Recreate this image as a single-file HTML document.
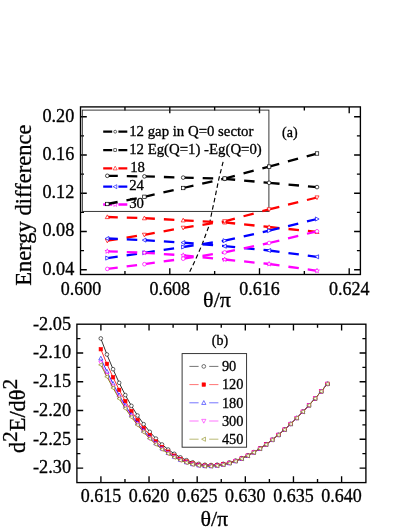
<!DOCTYPE html>
<html><head><meta charset="utf-8"><title>chart</title>
<style>html,body{margin:0;padding:0;background:#fff;overflow:hidden;}svg{display:block;position:absolute;left:0;top:0;opacity:0.999;will-change:transform;}text{fill:#000;stroke:#000;stroke-width:0.3px;}</style>
</head><body>
<svg width="409" height="529" viewBox="0 0 409 529">
<rect width="409" height="529" fill="#fff"/>
<rect x="80.5" y="106.9" width="279.90" height="167.60" fill="none" stroke="#000" stroke-width="1.35"/>
<path d="M124.95 274.5v-3.5M124.95 106.9v3.5M169.80 274.5v-6.3M169.80 106.9v6.3M214.65 274.5v-3.5M214.65 106.9v3.5M259.50 274.5v-6.3M259.50 106.9v6.3M304.35 274.5v-3.5M304.35 106.9v3.5M349.20 274.5v-6.3M349.20 106.9v6.3M80.5 269.70h6.3M360.4 269.70h-6.3M80.5 250.58h3.5M360.4 250.58h-3.5M80.5 231.45h6.3M360.4 231.45h-6.3M80.5 212.32h3.5M360.4 212.32h-3.5M80.5 193.20h6.3M360.4 193.20h-6.3M80.5 174.07h3.5M360.4 174.07h-3.5M80.5 154.95h6.3M360.4 154.95h-6.3M80.5 135.82h3.5M360.4 135.82h-3.5M80.5 116.70h6.3M360.4 116.70h-6.3" fill="none" stroke="#000" stroke-width="1.35"/>
<text x="81.10" y="294.9" font-size="18" text-anchor="middle" font-family="Liberation Serif, serif">0.600</text>
<text x="169.80" y="294.9" font-size="18" text-anchor="middle" font-family="Liberation Serif, serif">0.608</text>
<text x="259.50" y="294.9" font-size="18" text-anchor="middle" font-family="Liberation Serif, serif">0.616</text>
<text x="349.20" y="294.9" font-size="18" text-anchor="middle" font-family="Liberation Serif, serif">0.624</text>
<text x="74.3" y="274.60" font-size="18.2" text-anchor="end" font-family="Liberation Serif, serif">0.04</text>
<text x="74.3" y="236.35" font-size="18.2" text-anchor="end" font-family="Liberation Serif, serif">0.08</text>
<text x="74.3" y="198.10" font-size="18.2" text-anchor="end" font-family="Liberation Serif, serif">0.12</text>
<text x="74.3" y="159.85" font-size="18.2" text-anchor="end" font-family="Liberation Serif, serif">0.16</text>
<text x="74.3" y="121.60" font-size="18.2" text-anchor="end" font-family="Liberation Serif, serif">0.20</text>
<text transform="translate(30.5,205.2) rotate(-90)" font-size="22.55" text-anchor="middle" font-family="Liberation Serif, serif">Energy difference</text>
<text x="217" y="307.4" font-size="22" text-anchor="middle" font-family="Liberation Serif, serif">θ/π</text>
<rect x="82.3" y="110.1" width="186.60" height="101.30" fill="none" stroke="#222" stroke-width="0.9"/>
<text x="282" y="136.9" font-size="14" font-family="Liberation Serif, serif">(a)</text>
<path d="M223.1 161.9 L218.8 179.1 L214.5 200 L212 211.4 L209.3 225 L201.9 245 L195.0 260.7 L188.7 274.0" fill="none" stroke="#000" stroke-width="1.15" stroke-dasharray="4.4 3"/>
<path d="M103.2 131.7H112.2M118.4 131.7H127.3" stroke="#000" stroke-width="2.3" fill="none"/>
<circle cx="115.20" cy="131.70" r="1.44" fill="#fff" stroke="#000" stroke-width="0.6"/>
<text x="129.2" y="135.80" font-size="14.8" font-family="Liberation Serif, serif">12 gap in Q=0 sector</text>
<path d="M103.2 150.1H112.2M118.4 150.1H127.3" stroke="#000" stroke-width="2.3" fill="none"/>
<rect x="113.84" y="148.74" width="2.72" height="2.72" fill="#fff" stroke="#000" stroke-width="0.6"/>
<text x="129.2" y="154.20" font-size="14.8" font-family="Liberation Serif, serif">12 Eg(Q=1) -Eg(Q=0)</text>
<path d="M103.2 168.3H112.2M118.4 168.3H127.3" stroke="#f00" stroke-width="2.3" fill="none"/>
<polygon points="115.20,166.20 113.20,169.88 117.20,169.88" fill="#fff" stroke="#f00" stroke-width="0.6" stroke-linejoin="miter"/>
<text x="130.2" y="172.00" font-size="14.8" font-family="Liberation Serif, serif">18</text>
<path d="M103.2 186.70000000000002H112.2M118.4 186.70000000000002H127.3" stroke="#00f" stroke-width="2.3" fill="none"/>
<polygon points="113.10,186.70 116.78,184.71 116.78,188.70" fill="#fff" stroke="#00f" stroke-width="0.6" stroke-linejoin="miter"/>
<text x="129.2" y="190.40" font-size="14.8" font-family="Liberation Serif, serif">24</text>
<path d="M103.2 204.5H112.2M118.4 204.5H127.3" stroke="#f0f" stroke-width="2.3" fill="none"/>
<polygon points="115.20,202.09 115.82,203.65 117.50,203.75 116.20,204.82 116.62,206.45 115.20,205.55 113.78,206.45 114.20,204.82 112.90,203.75 114.58,203.65" fill="#fff" stroke="#f0f" stroke-width="0.6" stroke-linejoin="miter"/>
<text x="129.2" y="208.20" font-size="14.8" font-family="Liberation Serif, serif">30</text>
<line x1="107.3" y1="175.8" x2="144.4" y2="176.4" stroke="#000" stroke-width="2.3" stroke-dasharray="10.5 9"/>
<line x1="144.4" y1="176.4" x2="183.2" y2="177.6" stroke="#000" stroke-width="2.3" stroke-dasharray="10.5 9"/>
<line x1="183.2" y1="177.6" x2="224.7" y2="178.8" stroke="#000" stroke-width="2.3" stroke-dasharray="10.5 9"/>
<line x1="224.7" y1="178.8" x2="269.1" y2="182.8" stroke="#000" stroke-width="2.3" stroke-dasharray="10.5 9"/>
<line x1="269.1" y1="182.8" x2="317.0" y2="187.1" stroke="#000" stroke-width="2.3" stroke-dasharray="10.5 9"/>
<line x1="107.3" y1="204.0" x2="144.4" y2="196.8" stroke="#000" stroke-width="2.3" stroke-dasharray="10.5 9"/>
<line x1="144.4" y1="196.8" x2="183.2" y2="188.0" stroke="#000" stroke-width="2.3" stroke-dasharray="10.5 9"/>
<line x1="183.2" y1="188.0" x2="224.7" y2="178.5" stroke="#000" stroke-width="2.3" stroke-dasharray="10.5 9"/>
<line x1="224.7" y1="178.5" x2="269.1" y2="166.6" stroke="#000" stroke-width="2.3" stroke-dasharray="10.5 9"/>
<line x1="269.1" y1="166.6" x2="317.0" y2="153.5" stroke="#000" stroke-width="2.3" stroke-dasharray="10.5 9"/>
<line x1="107.3" y1="217.0" x2="144.4" y2="218.2" stroke="#f00" stroke-width="2.3" stroke-dasharray="10.5 9"/>
<line x1="144.4" y1="218.2" x2="183.2" y2="220.3" stroke="#f00" stroke-width="2.3" stroke-dasharray="10.5 9"/>
<line x1="183.2" y1="220.3" x2="224.7" y2="222.4" stroke="#f00" stroke-width="2.3" stroke-dasharray="10.5 9"/>
<line x1="224.7" y1="222.4" x2="269.1" y2="227.0" stroke="#f00" stroke-width="2.3" stroke-dasharray="10.5 9"/>
<line x1="269.1" y1="227.0" x2="317.0" y2="231.9" stroke="#f00" stroke-width="2.3" stroke-dasharray="10.5 9"/>
<line x1="107.3" y1="240.7" x2="144.4" y2="234.8" stroke="#f00" stroke-width="2.3" stroke-dasharray="10.5 9"/>
<line x1="144.4" y1="234.8" x2="183.2" y2="227.8" stroke="#f00" stroke-width="2.3" stroke-dasharray="10.5 9"/>
<line x1="183.2" y1="227.8" x2="224.7" y2="221.3" stroke="#f00" stroke-width="2.3" stroke-dasharray="10.5 9"/>
<line x1="224.7" y1="221.3" x2="269.1" y2="209.4" stroke="#f00" stroke-width="2.3" stroke-dasharray="10.5 9"/>
<line x1="269.1" y1="209.4" x2="317.0" y2="197.5" stroke="#f00" stroke-width="2.3" stroke-dasharray="10.5 9"/>
<line x1="107.3" y1="238.5" x2="144.4" y2="240.1" stroke="#00f" stroke-width="2.3" stroke-dasharray="10.5 9"/>
<line x1="144.4" y1="240.1" x2="183.2" y2="242.6" stroke="#00f" stroke-width="2.3" stroke-dasharray="10.5 9"/>
<line x1="183.2" y1="242.6" x2="224.7" y2="246.2" stroke="#00f" stroke-width="2.3" stroke-dasharray="10.5 9"/>
<line x1="224.7" y1="246.2" x2="269.1" y2="250.5" stroke="#00f" stroke-width="2.3" stroke-dasharray="10.5 9"/>
<line x1="269.1" y1="250.5" x2="317.0" y2="256.8" stroke="#00f" stroke-width="2.3" stroke-dasharray="10.5 9"/>
<line x1="107.3" y1="258.1" x2="144.4" y2="252.8" stroke="#00f" stroke-width="2.3" stroke-dasharray="10.5 9"/>
<line x1="144.4" y1="252.8" x2="183.2" y2="247.0" stroke="#00f" stroke-width="2.3" stroke-dasharray="10.5 9"/>
<line x1="183.2" y1="247.0" x2="224.7" y2="240.7" stroke="#00f" stroke-width="2.3" stroke-dasharray="10.5 9"/>
<line x1="224.7" y1="240.7" x2="269.1" y2="230.7" stroke="#00f" stroke-width="2.3" stroke-dasharray="10.5 9"/>
<line x1="269.1" y1="230.7" x2="317.0" y2="219.0" stroke="#00f" stroke-width="2.3" stroke-dasharray="10.5 9"/>
<line x1="107.3" y1="251.3" x2="144.4" y2="252.8" stroke="#f0f" stroke-width="2.3" stroke-dasharray="10.5 9"/>
<line x1="144.4" y1="252.8" x2="183.2" y2="255.3" stroke="#f0f" stroke-width="2.3" stroke-dasharray="10.5 9"/>
<line x1="183.2" y1="255.3" x2="224.7" y2="259.5" stroke="#f0f" stroke-width="2.3" stroke-dasharray="10.5 9"/>
<line x1="224.7" y1="259.5" x2="269.1" y2="264.0" stroke="#f0f" stroke-width="2.3" stroke-dasharray="10.5 9"/>
<line x1="269.1" y1="264.0" x2="317.0" y2="270.8" stroke="#f0f" stroke-width="2.3" stroke-dasharray="10.5 9"/>
<line x1="107.3" y1="268.9" x2="144.4" y2="264.2" stroke="#f0f" stroke-width="2.3" stroke-dasharray="10.5 9"/>
<line x1="144.4" y1="264.2" x2="183.2" y2="258.7" stroke="#f0f" stroke-width="2.3" stroke-dasharray="10.5 9"/>
<line x1="183.2" y1="258.7" x2="224.7" y2="252.4" stroke="#f0f" stroke-width="2.3" stroke-dasharray="10.5 9"/>
<line x1="224.7" y1="252.4" x2="269.1" y2="243.0" stroke="#f0f" stroke-width="2.3" stroke-dasharray="10.5 9"/>
<line x1="269.1" y1="243.0" x2="317.0" y2="231.3" stroke="#f0f" stroke-width="2.3" stroke-dasharray="10.5 9"/>
<circle cx="107.30" cy="175.80" r="1.83" fill="#fff" stroke="#000" stroke-width="0.7"/>
<circle cx="144.40" cy="176.40" r="1.83" fill="#fff" stroke="#000" stroke-width="0.7"/>
<circle cx="183.20" cy="177.60" r="1.83" fill="#fff" stroke="#000" stroke-width="0.7"/>
<circle cx="224.70" cy="178.80" r="1.83" fill="#fff" stroke="#000" stroke-width="0.7"/>
<circle cx="269.10" cy="182.80" r="1.83" fill="#fff" stroke="#000" stroke-width="0.7"/>
<circle cx="317.00" cy="187.10" r="1.83" fill="#fff" stroke="#000" stroke-width="0.7"/>
<rect x="105.58" y="202.28" width="3.44" height="3.44" fill="#fff" stroke="#000" stroke-width="0.7"/>
<rect x="142.68" y="195.08" width="3.44" height="3.44" fill="#fff" stroke="#000" stroke-width="0.7"/>
<rect x="181.48" y="186.28" width="3.44" height="3.44" fill="#fff" stroke="#000" stroke-width="0.7"/>
<rect x="222.98" y="176.78" width="3.44" height="3.44" fill="#fff" stroke="#000" stroke-width="0.7"/>
<rect x="267.38" y="164.88" width="3.44" height="3.44" fill="#fff" stroke="#000" stroke-width="0.7"/>
<rect x="315.28" y="151.78" width="3.44" height="3.44" fill="#fff" stroke="#000" stroke-width="0.7"/>
<polygon points="107.30,214.85 105.26,218.61 109.34,218.61" fill="#fff" stroke="#f00" stroke-width="0.7" stroke-linejoin="miter"/>
<polygon points="144.40,216.05 142.36,219.81 146.44,219.81" fill="#fff" stroke="#f00" stroke-width="0.7" stroke-linejoin="miter"/>
<polygon points="183.20,218.15 181.16,221.91 185.24,221.91" fill="#fff" stroke="#f00" stroke-width="0.7" stroke-linejoin="miter"/>
<polygon points="224.70,220.25 222.66,224.01 226.74,224.01" fill="#fff" stroke="#f00" stroke-width="0.7" stroke-linejoin="miter"/>
<polygon points="269.10,224.85 267.06,228.61 271.14,228.61" fill="#fff" stroke="#f00" stroke-width="0.7" stroke-linejoin="miter"/>
<polygon points="317.00,229.75 314.96,233.51 319.04,233.51" fill="#fff" stroke="#f00" stroke-width="0.7" stroke-linejoin="miter"/>
<polygon points="107.30,242.85 105.26,239.09 109.34,239.09" fill="#fff" stroke="#f00" stroke-width="0.7" stroke-linejoin="miter"/>
<polygon points="144.40,236.95 142.36,233.19 146.44,233.19" fill="#fff" stroke="#f00" stroke-width="0.7" stroke-linejoin="miter"/>
<polygon points="183.20,229.95 181.16,226.19 185.24,226.19" fill="#fff" stroke="#f00" stroke-width="0.7" stroke-linejoin="miter"/>
<polygon points="224.70,223.45 222.66,219.69 226.74,219.69" fill="#fff" stroke="#f00" stroke-width="0.7" stroke-linejoin="miter"/>
<polygon points="269.10,211.55 267.06,207.79 271.14,207.79" fill="#fff" stroke="#f00" stroke-width="0.7" stroke-linejoin="miter"/>
<polygon points="317.00,199.65 314.96,195.89 319.04,195.89" fill="#fff" stroke="#f00" stroke-width="0.7" stroke-linejoin="miter"/>
<polygon points="105.15,238.50 108.91,236.46 108.91,240.54" fill="#fff" stroke="#00f" stroke-width="0.7" stroke-linejoin="miter"/>
<polygon points="142.25,240.10 146.01,238.06 146.01,242.14" fill="#fff" stroke="#00f" stroke-width="0.7" stroke-linejoin="miter"/>
<polygon points="181.05,242.60 184.81,240.56 184.81,244.64" fill="#fff" stroke="#00f" stroke-width="0.7" stroke-linejoin="miter"/>
<polygon points="222.55,246.20 226.31,244.16 226.31,248.24" fill="#fff" stroke="#00f" stroke-width="0.7" stroke-linejoin="miter"/>
<polygon points="266.95,250.50 270.71,248.46 270.71,252.54" fill="#fff" stroke="#00f" stroke-width="0.7" stroke-linejoin="miter"/>
<polygon points="314.85,256.80 318.61,254.76 318.61,258.84" fill="#fff" stroke="#00f" stroke-width="0.7" stroke-linejoin="miter"/>
<polygon points="109.45,258.10 105.69,256.06 105.69,260.14" fill="#fff" stroke="#00f" stroke-width="0.7" stroke-linejoin="miter"/>
<polygon points="146.55,252.80 142.79,250.76 142.79,254.84" fill="#fff" stroke="#00f" stroke-width="0.7" stroke-linejoin="miter"/>
<polygon points="185.35,247.00 181.59,244.96 181.59,249.04" fill="#fff" stroke="#00f" stroke-width="0.7" stroke-linejoin="miter"/>
<polygon points="226.85,240.70 223.09,238.66 223.09,242.74" fill="#fff" stroke="#00f" stroke-width="0.7" stroke-linejoin="miter"/>
<polygon points="271.25,230.70 267.49,228.66 267.49,232.74" fill="#fff" stroke="#00f" stroke-width="0.7" stroke-linejoin="miter"/>
<polygon points="319.15,219.00 315.39,216.96 315.39,221.04" fill="#fff" stroke="#00f" stroke-width="0.7" stroke-linejoin="miter"/>
<polygon points="107.30,248.83 107.93,250.43 109.65,250.54 108.32,251.63 108.75,253.30 107.30,252.38 105.85,253.30 106.28,251.63 104.95,250.54 106.67,250.43" fill="#fff" stroke="#f0f" stroke-width="0.7" stroke-linejoin="miter"/>
<polygon points="144.40,250.33 145.03,251.93 146.75,252.04 145.42,253.13 145.85,254.80 144.40,253.88 142.95,254.80 143.38,253.13 142.05,252.04 143.77,251.93" fill="#fff" stroke="#f0f" stroke-width="0.7" stroke-linejoin="miter"/>
<polygon points="183.20,252.83 183.83,254.43 185.55,254.54 184.22,255.63 184.65,257.30 183.20,256.38 181.75,257.30 182.18,255.63 180.85,254.54 182.57,254.43" fill="#fff" stroke="#f0f" stroke-width="0.7" stroke-linejoin="miter"/>
<polygon points="224.70,257.03 225.33,258.63 227.05,258.74 225.72,259.83 226.15,261.50 224.70,260.57 223.25,261.50 223.68,259.83 222.35,258.74 224.07,258.63" fill="#fff" stroke="#f0f" stroke-width="0.7" stroke-linejoin="miter"/>
<polygon points="269.10,261.53 269.73,263.13 271.45,263.24 270.12,264.33 270.55,266.00 269.10,265.07 267.65,266.00 268.08,264.33 266.75,263.24 268.47,263.13" fill="#fff" stroke="#f0f" stroke-width="0.7" stroke-linejoin="miter"/>
<polygon points="317.00,268.33 317.63,269.93 319.35,270.04 318.02,271.13 318.45,272.80 317.00,271.88 315.55,272.80 315.98,271.13 314.65,270.04 316.37,269.93" fill="#fff" stroke="#f0f" stroke-width="0.7" stroke-linejoin="miter"/>
<circle cx="107.30" cy="268.90" r="1.83" fill="#fff" stroke="#f0f" stroke-width="0.7"/>
<circle cx="144.40" cy="264.20" r="1.83" fill="#fff" stroke="#f0f" stroke-width="0.7"/>
<circle cx="183.20" cy="258.70" r="1.83" fill="#fff" stroke="#f0f" stroke-width="0.7"/>
<circle cx="224.70" cy="252.40" r="1.83" fill="#fff" stroke="#f0f" stroke-width="0.7"/>
<circle cx="269.10" cy="243.00" r="1.83" fill="#fff" stroke="#f0f" stroke-width="0.7"/>
<circle cx="317.00" cy="231.30" r="1.83" fill="#fff" stroke="#f0f" stroke-width="0.7"/>
<rect x="76.9" y="324.2" width="289.00" height="158.40" fill="none" stroke="#000" stroke-width="1.35"/>
<path d="M100.90 482.6v-6.3M100.90 324.2v6.3M124.97 482.6v-3.5M124.97 324.2v3.5M149.04 482.6v-6.3M149.04 324.2v6.3M173.11 482.6v-3.5M173.11 324.2v3.5M197.18 482.6v-6.3M197.18 324.2v6.3M221.25 482.6v-3.5M221.25 324.2v3.5M245.32 482.6v-6.3M245.32 324.2v6.3M269.39 482.6v-3.5M269.39 324.2v3.5M293.46 482.6v-6.3M293.46 324.2v6.3M317.53 482.6v-3.5M317.53 324.2v3.5M341.60 482.6v-6.3M341.60 324.2v6.3M76.9 338.58h3.5M365.9 338.58h-3.5M76.9 352.97h6.3M365.9 352.97h-6.3M76.9 367.36h3.5M365.9 367.36h-3.5M76.9 381.74h6.3M365.9 381.74h-6.3M76.9 396.12h3.5M365.9 396.12h-3.5M76.9 410.51h6.3M365.9 410.51h-6.3M76.9 424.89h3.5M365.9 424.89h-3.5M76.9 439.28h6.3M365.9 439.28h-6.3M76.9 453.67h3.5M365.9 453.67h-3.5M76.9 468.05h6.3M365.9 468.05h-6.3" fill="none" stroke="#000" stroke-width="1.35"/>
<text x="100.90" y="502.4" font-size="18" text-anchor="middle" font-family="Liberation Serif, serif">0.615</text>
<text x="149.04" y="502.4" font-size="18" text-anchor="middle" font-family="Liberation Serif, serif">0.620</text>
<text x="197.18" y="502.4" font-size="18" text-anchor="middle" font-family="Liberation Serif, serif">0.625</text>
<text x="245.32" y="502.4" font-size="18" text-anchor="middle" font-family="Liberation Serif, serif">0.630</text>
<text x="293.46" y="502.4" font-size="18" text-anchor="middle" font-family="Liberation Serif, serif">0.635</text>
<text x="341.60" y="502.4" font-size="18" text-anchor="middle" font-family="Liberation Serif, serif">0.640</text>
<text x="71.1" y="329.50" font-size="18.3" text-anchor="end" font-family="Liberation Serif, serif">-2.05</text>
<text x="71.1" y="358.27" font-size="18.3" text-anchor="end" font-family="Liberation Serif, serif">-2.10</text>
<text x="71.1" y="387.04" font-size="18.3" text-anchor="end" font-family="Liberation Serif, serif">-2.15</text>
<text x="71.1" y="415.81" font-size="18.3" text-anchor="end" font-family="Liberation Serif, serif">-2.20</text>
<text x="71.1" y="444.58" font-size="18.3" text-anchor="end" font-family="Liberation Serif, serif">-2.25</text>
<text x="71.1" y="473.35" font-size="18.3" text-anchor="end" font-family="Liberation Serif, serif">-2.30</text>
<text transform="translate(24.9,453.1) rotate(-90)" font-size="22.3" font-family="Liberation Serif, serif">d<tspan dy="-7.8" font-size="21.5">2</tspan><tspan dy="7.8">E/dθ</tspan><tspan dy="-7.8" font-size="21.5">2</tspan></text>
<text x="214.3" y="526" font-size="22" text-anchor="middle" font-family="Liberation Serif, serif">θ/π</text>
<text x="211.8" y="345.4" font-size="14" font-family="Liberation Serif, serif">(b)</text>
<polyline points="100.80,338.43 106.92,354.48 113.05,369.18 119.17,382.82 125.30,395.07 131.42,405.85 137.54,415.52 143.67,424.17 149.79,431.86 155.92,438.60 162.04,444.47 168.16,449.53 174.29,453.81 180.41,457.35 186.54,460.18 192.66,462.34 198.78,463.84 204.91,464.72 211.03,465.00 217.16,464.70 223.28,463.86 229.40,462.48 235.53,460.59 241.65,458.21 247.78,455.37 253.90,452.07 260.02,448.34 266.15,444.23 272.27,439.72 278.40,434.81 284.52,429.53 290.64,423.90 296.77,417.96 302.89,411.71 309.02,405.17 315.14,398.37 321.26,391.29 327.39,383.88" fill="none" stroke="#000" stroke-width="0.8"/>
<circle cx="100.80" cy="338.43" r="1.83" fill="#fff" stroke="#000" stroke-width="0.6"/>
<circle cx="106.92" cy="354.48" r="1.83" fill="#fff" stroke="#000" stroke-width="0.6"/>
<circle cx="113.05" cy="369.18" r="1.83" fill="#fff" stroke="#000" stroke-width="0.6"/>
<circle cx="119.17" cy="382.82" r="1.83" fill="#fff" stroke="#000" stroke-width="0.6"/>
<circle cx="125.30" cy="395.07" r="1.83" fill="#fff" stroke="#000" stroke-width="0.6"/>
<circle cx="131.42" cy="405.85" r="1.83" fill="#fff" stroke="#000" stroke-width="0.6"/>
<circle cx="137.54" cy="415.52" r="1.83" fill="#fff" stroke="#000" stroke-width="0.6"/>
<circle cx="143.67" cy="424.17" r="1.83" fill="#fff" stroke="#000" stroke-width="0.6"/>
<circle cx="149.79" cy="431.86" r="1.83" fill="#fff" stroke="#000" stroke-width="0.6"/>
<circle cx="155.92" cy="438.60" r="1.83" fill="#fff" stroke="#000" stroke-width="0.6"/>
<circle cx="162.04" cy="444.47" r="1.83" fill="#fff" stroke="#000" stroke-width="0.6"/>
<circle cx="168.16" cy="449.53" r="1.83" fill="#fff" stroke="#000" stroke-width="0.6"/>
<circle cx="174.29" cy="453.81" r="1.83" fill="#fff" stroke="#000" stroke-width="0.6"/>
<circle cx="180.41" cy="457.35" r="1.83" fill="#fff" stroke="#000" stroke-width="0.6"/>
<circle cx="186.54" cy="460.18" r="1.83" fill="#fff" stroke="#000" stroke-width="0.6"/>
<circle cx="192.66" cy="462.34" r="1.83" fill="#fff" stroke="#000" stroke-width="0.6"/>
<circle cx="198.78" cy="463.84" r="1.83" fill="#fff" stroke="#000" stroke-width="0.6"/>
<circle cx="204.91" cy="464.72" r="1.83" fill="#fff" stroke="#000" stroke-width="0.6"/>
<circle cx="211.03" cy="465.00" r="1.83" fill="#fff" stroke="#000" stroke-width="0.6"/>
<circle cx="217.16" cy="464.70" r="1.83" fill="#fff" stroke="#000" stroke-width="0.6"/>
<circle cx="223.28" cy="463.86" r="1.83" fill="#fff" stroke="#000" stroke-width="0.6"/>
<circle cx="229.40" cy="462.48" r="1.83" fill="#fff" stroke="#000" stroke-width="0.6"/>
<circle cx="235.53" cy="460.59" r="1.83" fill="#fff" stroke="#000" stroke-width="0.6"/>
<circle cx="241.65" cy="458.21" r="1.83" fill="#fff" stroke="#000" stroke-width="0.6"/>
<circle cx="247.78" cy="455.37" r="1.83" fill="#fff" stroke="#000" stroke-width="0.6"/>
<circle cx="253.90" cy="452.07" r="1.83" fill="#fff" stroke="#000" stroke-width="0.6"/>
<circle cx="260.02" cy="448.34" r="1.83" fill="#fff" stroke="#000" stroke-width="0.6"/>
<circle cx="266.15" cy="444.23" r="1.83" fill="#fff" stroke="#000" stroke-width="0.6"/>
<circle cx="272.27" cy="439.72" r="1.83" fill="#fff" stroke="#000" stroke-width="0.6"/>
<circle cx="278.40" cy="434.81" r="1.83" fill="#fff" stroke="#000" stroke-width="0.6"/>
<circle cx="284.52" cy="429.53" r="1.83" fill="#fff" stroke="#000" stroke-width="0.6"/>
<circle cx="290.64" cy="423.90" r="1.83" fill="#fff" stroke="#000" stroke-width="0.6"/>
<circle cx="296.77" cy="417.96" r="1.83" fill="#fff" stroke="#000" stroke-width="0.6"/>
<circle cx="302.89" cy="411.71" r="1.83" fill="#fff" stroke="#000" stroke-width="0.6"/>
<circle cx="309.02" cy="405.17" r="1.83" fill="#fff" stroke="#000" stroke-width="0.6"/>
<circle cx="315.14" cy="398.37" r="1.83" fill="#fff" stroke="#000" stroke-width="0.6"/>
<circle cx="321.26" cy="391.29" r="1.83" fill="#fff" stroke="#000" stroke-width="0.6"/>
<circle cx="327.39" cy="383.88" r="1.83" fill="#fff" stroke="#000" stroke-width="0.6"/>
<polyline points="100.80,349.23 106.92,363.86 113.05,377.30 119.17,389.85 125.30,401.15 131.42,411.10 137.54,420.05 143.67,428.08 149.79,435.23 155.92,441.49 162.04,446.96 168.16,451.67 174.29,455.65 180.41,458.93 186.54,461.54 192.66,463.50 198.78,464.83 204.91,465.57 211.03,465.73 217.16,465.33 223.28,464.39 229.40,462.93 235.53,460.98 241.65,458.54 247.78,455.65 253.90,452.31 260.02,448.55 266.15,444.41 272.27,439.87 278.40,434.94 284.52,429.64 290.64,423.99 296.77,418.03 302.89,411.77 309.02,405.23 315.14,398.42 321.26,391.33 327.39,383.91" fill="none" stroke="#f00" stroke-width="0.8"/>
<rect x="99.08" y="347.51" width="3.44" height="3.44" fill="#f00" stroke="#f00" stroke-width="0.6"/>
<rect x="105.20" y="362.14" width="3.44" height="3.44" fill="#f00" stroke="#f00" stroke-width="0.6"/>
<rect x="111.33" y="375.58" width="3.44" height="3.44" fill="#f00" stroke="#f00" stroke-width="0.6"/>
<rect x="117.45" y="388.13" width="3.44" height="3.44" fill="#f00" stroke="#f00" stroke-width="0.6"/>
<rect x="123.58" y="399.43" width="3.44" height="3.44" fill="#f00" stroke="#f00" stroke-width="0.6"/>
<rect x="129.70" y="409.38" width="3.44" height="3.44" fill="#f00" stroke="#f00" stroke-width="0.6"/>
<rect x="135.82" y="418.33" width="3.44" height="3.44" fill="#f00" stroke="#f00" stroke-width="0.6"/>
<rect x="141.95" y="426.36" width="3.44" height="3.44" fill="#f00" stroke="#f00" stroke-width="0.6"/>
<rect x="148.07" y="433.51" width="3.44" height="3.44" fill="#f00" stroke="#f00" stroke-width="0.6"/>
<rect x="154.20" y="439.77" width="3.44" height="3.44" fill="#f00" stroke="#f00" stroke-width="0.6"/>
<rect x="160.32" y="445.24" width="3.44" height="3.44" fill="#f00" stroke="#f00" stroke-width="0.6"/>
<rect x="166.44" y="449.95" width="3.44" height="3.44" fill="#f00" stroke="#f00" stroke-width="0.6"/>
<rect x="172.57" y="453.93" width="3.44" height="3.44" fill="#f00" stroke="#f00" stroke-width="0.6"/>
<rect x="178.69" y="457.21" width="3.44" height="3.44" fill="#f00" stroke="#f00" stroke-width="0.6"/>
<rect x="184.82" y="459.82" width="3.44" height="3.44" fill="#f00" stroke="#f00" stroke-width="0.6"/>
<rect x="190.94" y="461.78" width="3.44" height="3.44" fill="#f00" stroke="#f00" stroke-width="0.6"/>
<rect x="197.06" y="463.11" width="3.44" height="3.44" fill="#f00" stroke="#f00" stroke-width="0.6"/>
<rect x="203.19" y="463.85" width="3.44" height="3.44" fill="#f00" stroke="#f00" stroke-width="0.6"/>
<rect x="209.31" y="464.01" width="3.44" height="3.44" fill="#f00" stroke="#f00" stroke-width="0.6"/>
<rect x="215.44" y="463.61" width="3.44" height="3.44" fill="#f00" stroke="#f00" stroke-width="0.6"/>
<rect x="221.56" y="462.67" width="3.44" height="3.44" fill="#f00" stroke="#f00" stroke-width="0.6"/>
<rect x="227.68" y="461.21" width="3.44" height="3.44" fill="#f00" stroke="#f00" stroke-width="0.6"/>
<rect x="233.81" y="459.26" width="3.44" height="3.44" fill="#f00" stroke="#f00" stroke-width="0.6"/>
<rect x="239.93" y="456.82" width="3.44" height="3.44" fill="#f00" stroke="#f00" stroke-width="0.6"/>
<rect x="246.06" y="453.93" width="3.44" height="3.44" fill="#f00" stroke="#f00" stroke-width="0.6"/>
<rect x="252.18" y="450.59" width="3.44" height="3.44" fill="#f00" stroke="#f00" stroke-width="0.6"/>
<rect x="258.30" y="446.83" width="3.44" height="3.44" fill="#f00" stroke="#f00" stroke-width="0.6"/>
<rect x="264.43" y="442.69" width="3.44" height="3.44" fill="#f00" stroke="#f00" stroke-width="0.6"/>
<rect x="270.55" y="438.15" width="3.44" height="3.44" fill="#f00" stroke="#f00" stroke-width="0.6"/>
<rect x="276.68" y="433.22" width="3.44" height="3.44" fill="#f00" stroke="#f00" stroke-width="0.6"/>
<rect x="282.80" y="427.92" width="3.44" height="3.44" fill="#f00" stroke="#f00" stroke-width="0.6"/>
<rect x="288.92" y="422.27" width="3.44" height="3.44" fill="#f00" stroke="#f00" stroke-width="0.6"/>
<rect x="295.05" y="416.31" width="3.44" height="3.44" fill="#f00" stroke="#f00" stroke-width="0.6"/>
<rect x="301.17" y="410.05" width="3.44" height="3.44" fill="#f00" stroke="#f00" stroke-width="0.6"/>
<rect x="307.30" y="403.51" width="3.44" height="3.44" fill="#f00" stroke="#f00" stroke-width="0.6"/>
<rect x="313.42" y="396.70" width="3.44" height="3.44" fill="#f00" stroke="#f00" stroke-width="0.6"/>
<rect x="319.54" y="389.61" width="3.44" height="3.44" fill="#f00" stroke="#f00" stroke-width="0.6"/>
<rect x="325.67" y="382.19" width="3.44" height="3.44" fill="#f00" stroke="#f00" stroke-width="0.6"/>
<polyline points="100.80,358.43 106.92,371.52 113.05,383.68 119.17,395.16 125.30,405.57 131.42,414.77 137.54,423.11 143.67,430.62 149.79,437.35 155.92,443.26 162.04,448.43 168.16,452.89 174.29,456.66 180.41,459.77 186.54,462.24 192.66,464.08 198.78,465.32 204.91,465.97 211.03,466.06 217.16,465.60 223.28,464.62 229.40,463.12 235.53,461.14 241.65,458.68 247.78,455.76 253.90,452.40 260.02,448.63 266.15,444.47 272.27,439.93 278.40,434.99 284.52,429.67 290.64,424.02 296.77,418.06 302.89,411.79 309.02,405.25 315.14,398.43 321.26,391.34 327.39,383.92" fill="none" stroke="#00f" stroke-width="0.8"/>
<polygon points="100.80,356.28 98.76,360.04 102.84,360.04" fill="#fff" stroke="#00f" stroke-width="0.6" stroke-linejoin="miter"/>
<polygon points="106.92,369.37 104.88,373.13 108.97,373.13" fill="#fff" stroke="#00f" stroke-width="0.6" stroke-linejoin="miter"/>
<polygon points="113.05,381.53 111.01,385.29 115.09,385.29" fill="#fff" stroke="#00f" stroke-width="0.6" stroke-linejoin="miter"/>
<polygon points="119.17,393.01 117.13,396.77 121.21,396.77" fill="#fff" stroke="#00f" stroke-width="0.6" stroke-linejoin="miter"/>
<polygon points="125.30,403.42 123.25,407.18 127.34,407.18" fill="#fff" stroke="#00f" stroke-width="0.6" stroke-linejoin="miter"/>
<polygon points="131.42,412.62 129.38,416.39 133.46,416.39" fill="#fff" stroke="#00f" stroke-width="0.6" stroke-linejoin="miter"/>
<polygon points="137.54,420.96 135.50,424.72 139.59,424.72" fill="#fff" stroke="#00f" stroke-width="0.6" stroke-linejoin="miter"/>
<polygon points="143.67,428.47 141.63,432.24 145.71,432.24" fill="#fff" stroke="#00f" stroke-width="0.6" stroke-linejoin="miter"/>
<polygon points="149.79,435.20 147.75,438.96 151.83,438.96" fill="#fff" stroke="#00f" stroke-width="0.6" stroke-linejoin="miter"/>
<polygon points="155.92,441.11 153.87,444.87 157.96,444.87" fill="#fff" stroke="#00f" stroke-width="0.6" stroke-linejoin="miter"/>
<polygon points="162.04,446.28 160.00,450.04 164.08,450.04" fill="#fff" stroke="#00f" stroke-width="0.6" stroke-linejoin="miter"/>
<polygon points="168.16,450.74 166.12,454.50 170.21,454.50" fill="#fff" stroke="#00f" stroke-width="0.6" stroke-linejoin="miter"/>
<polygon points="174.29,454.51 172.25,458.28 176.33,458.28" fill="#fff" stroke="#00f" stroke-width="0.6" stroke-linejoin="miter"/>
<polygon points="180.41,457.62 178.37,461.39 182.45,461.39" fill="#fff" stroke="#00f" stroke-width="0.6" stroke-linejoin="miter"/>
<polygon points="186.54,460.09 184.49,463.85 188.58,463.85" fill="#fff" stroke="#00f" stroke-width="0.6" stroke-linejoin="miter"/>
<polygon points="192.66,461.93 190.62,465.69 194.70,465.69" fill="#fff" stroke="#00f" stroke-width="0.6" stroke-linejoin="miter"/>
<polygon points="198.78,463.17 196.74,466.93 200.83,466.93" fill="#fff" stroke="#00f" stroke-width="0.6" stroke-linejoin="miter"/>
<polygon points="204.91,463.82 202.87,467.58 206.95,467.58" fill="#fff" stroke="#00f" stroke-width="0.6" stroke-linejoin="miter"/>
<polygon points="211.03,463.91 208.99,467.67 213.07,467.67" fill="#fff" stroke="#00f" stroke-width="0.6" stroke-linejoin="miter"/>
<polygon points="217.16,463.45 215.11,467.22 219.20,467.22" fill="#fff" stroke="#00f" stroke-width="0.6" stroke-linejoin="miter"/>
<polygon points="223.28,462.47 221.24,466.23 225.32,466.23" fill="#fff" stroke="#00f" stroke-width="0.6" stroke-linejoin="miter"/>
<polygon points="229.40,460.97 227.36,464.74 231.45,464.74" fill="#fff" stroke="#00f" stroke-width="0.6" stroke-linejoin="miter"/>
<polygon points="235.53,458.99 233.49,462.75 237.57,462.75" fill="#fff" stroke="#00f" stroke-width="0.6" stroke-linejoin="miter"/>
<polygon points="241.65,456.53 239.61,460.29 243.69,460.29" fill="#fff" stroke="#00f" stroke-width="0.6" stroke-linejoin="miter"/>
<polygon points="247.78,453.61 245.73,457.37 249.82,457.37" fill="#fff" stroke="#00f" stroke-width="0.6" stroke-linejoin="miter"/>
<polygon points="253.90,450.25 251.86,454.02 255.94,454.02" fill="#fff" stroke="#00f" stroke-width="0.6" stroke-linejoin="miter"/>
<polygon points="260.02,446.48 257.98,450.24 262.07,450.24" fill="#fff" stroke="#00f" stroke-width="0.6" stroke-linejoin="miter"/>
<polygon points="266.15,442.32 264.11,446.08 268.19,446.08" fill="#fff" stroke="#00f" stroke-width="0.6" stroke-linejoin="miter"/>
<polygon points="272.27,437.78 270.23,441.54 274.31,441.54" fill="#fff" stroke="#00f" stroke-width="0.6" stroke-linejoin="miter"/>
<polygon points="278.40,432.84 276.35,436.60 280.44,436.60" fill="#fff" stroke="#00f" stroke-width="0.6" stroke-linejoin="miter"/>
<polygon points="284.52,427.52 282.48,431.29 286.56,431.29" fill="#fff" stroke="#00f" stroke-width="0.6" stroke-linejoin="miter"/>
<polygon points="290.64,421.87 288.60,425.64 292.69,425.64" fill="#fff" stroke="#00f" stroke-width="0.6" stroke-linejoin="miter"/>
<polygon points="296.77,415.91 294.73,419.67 298.81,419.67" fill="#fff" stroke="#00f" stroke-width="0.6" stroke-linejoin="miter"/>
<polygon points="302.89,409.64 300.85,413.41 304.93,413.41" fill="#fff" stroke="#00f" stroke-width="0.6" stroke-linejoin="miter"/>
<polygon points="309.02,403.10 306.97,406.86 311.06,406.86" fill="#fff" stroke="#00f" stroke-width="0.6" stroke-linejoin="miter"/>
<polygon points="315.14,396.28 313.10,400.04 317.18,400.04" fill="#fff" stroke="#00f" stroke-width="0.6" stroke-linejoin="miter"/>
<polygon points="321.26,389.19 319.22,392.96 323.31,392.96" fill="#fff" stroke="#00f" stroke-width="0.6" stroke-linejoin="miter"/>
<polygon points="327.39,381.77 325.35,385.53 329.43,385.53" fill="#fff" stroke="#00f" stroke-width="0.6" stroke-linejoin="miter"/>
<polyline points="100.80,362.73 106.92,375.04 113.05,386.56 119.17,397.52 125.30,407.50 131.42,416.36 137.54,424.41 143.67,431.68 149.79,438.22 155.92,443.97 162.04,449.01 168.16,453.37 174.29,457.05 180.41,460.09 186.54,462.50 192.66,464.29 198.78,465.49 204.91,466.12 211.03,466.18 217.16,465.70 223.28,464.70 229.40,463.19 235.53,461.19 241.65,458.72 247.78,455.80 253.90,452.43 260.02,448.65 266.15,444.49 272.27,439.94 278.40,435.00 284.52,429.68 290.64,424.03 296.77,418.07 302.89,411.80 309.02,405.25 315.14,398.44 321.26,391.35 327.39,383.92" fill="none" stroke="#f0f" stroke-width="0.8"/>
<polygon points="100.80,364.88 98.76,361.12 102.84,361.12" fill="#fff" stroke="#f0f" stroke-width="0.6" stroke-linejoin="miter"/>
<polygon points="106.92,377.19 104.88,373.42 108.97,373.42" fill="#fff" stroke="#f0f" stroke-width="0.6" stroke-linejoin="miter"/>
<polygon points="113.05,388.71 111.01,384.95 115.09,384.95" fill="#fff" stroke="#f0f" stroke-width="0.6" stroke-linejoin="miter"/>
<polygon points="119.17,399.67 117.13,395.91 121.21,395.91" fill="#fff" stroke="#f0f" stroke-width="0.6" stroke-linejoin="miter"/>
<polygon points="125.30,409.65 123.25,405.89 127.34,405.89" fill="#fff" stroke="#f0f" stroke-width="0.6" stroke-linejoin="miter"/>
<polygon points="131.42,418.51 129.38,414.74 133.46,414.74" fill="#fff" stroke="#f0f" stroke-width="0.6" stroke-linejoin="miter"/>
<polygon points="137.54,426.56 135.50,422.79 139.59,422.79" fill="#fff" stroke="#f0f" stroke-width="0.6" stroke-linejoin="miter"/>
<polygon points="143.67,433.83 141.63,430.07 145.71,430.07" fill="#fff" stroke="#f0f" stroke-width="0.6" stroke-linejoin="miter"/>
<polygon points="149.79,440.37 147.75,436.60 151.83,436.60" fill="#fff" stroke="#f0f" stroke-width="0.6" stroke-linejoin="miter"/>
<polygon points="155.92,446.12 153.87,442.36 157.96,442.36" fill="#fff" stroke="#f0f" stroke-width="0.6" stroke-linejoin="miter"/>
<polygon points="162.04,451.16 160.00,447.40 164.08,447.40" fill="#fff" stroke="#f0f" stroke-width="0.6" stroke-linejoin="miter"/>
<polygon points="168.16,455.52 166.12,451.75 170.21,451.75" fill="#fff" stroke="#f0f" stroke-width="0.6" stroke-linejoin="miter"/>
<polygon points="174.29,459.20 172.25,455.44 176.33,455.44" fill="#fff" stroke="#f0f" stroke-width="0.6" stroke-linejoin="miter"/>
<polygon points="180.41,462.24 178.37,458.48 182.45,458.48" fill="#fff" stroke="#f0f" stroke-width="0.6" stroke-linejoin="miter"/>
<polygon points="186.54,464.65 184.49,460.89 188.58,460.89" fill="#fff" stroke="#f0f" stroke-width="0.6" stroke-linejoin="miter"/>
<polygon points="192.66,466.44 190.62,462.68 194.70,462.68" fill="#fff" stroke="#f0f" stroke-width="0.6" stroke-linejoin="miter"/>
<polygon points="198.78,467.64 196.74,463.88 200.83,463.88" fill="#fff" stroke="#f0f" stroke-width="0.6" stroke-linejoin="miter"/>
<polygon points="204.91,468.27 202.87,464.50 206.95,464.50" fill="#fff" stroke="#f0f" stroke-width="0.6" stroke-linejoin="miter"/>
<polygon points="211.03,468.33 208.99,464.57 213.07,464.57" fill="#fff" stroke="#f0f" stroke-width="0.6" stroke-linejoin="miter"/>
<polygon points="217.16,467.85 215.11,464.09 219.20,464.09" fill="#fff" stroke="#f0f" stroke-width="0.6" stroke-linejoin="miter"/>
<polygon points="223.28,466.85 221.24,463.09 225.32,463.09" fill="#fff" stroke="#f0f" stroke-width="0.6" stroke-linejoin="miter"/>
<polygon points="229.40,465.34 227.36,461.58 231.45,461.58" fill="#fff" stroke="#f0f" stroke-width="0.6" stroke-linejoin="miter"/>
<polygon points="235.53,463.34 233.49,459.58 237.57,459.58" fill="#fff" stroke="#f0f" stroke-width="0.6" stroke-linejoin="miter"/>
<polygon points="241.65,460.87 239.61,457.11 243.69,457.11" fill="#fff" stroke="#f0f" stroke-width="0.6" stroke-linejoin="miter"/>
<polygon points="247.78,457.95 245.73,454.18 249.82,454.18" fill="#fff" stroke="#f0f" stroke-width="0.6" stroke-linejoin="miter"/>
<polygon points="253.90,454.58 251.86,450.82 255.94,450.82" fill="#fff" stroke="#f0f" stroke-width="0.6" stroke-linejoin="miter"/>
<polygon points="260.02,450.80 257.98,447.04 262.07,447.04" fill="#fff" stroke="#f0f" stroke-width="0.6" stroke-linejoin="miter"/>
<polygon points="266.15,446.64 264.11,442.88 268.19,442.88" fill="#fff" stroke="#f0f" stroke-width="0.6" stroke-linejoin="miter"/>
<polygon points="272.27,442.09 270.23,438.33 274.31,438.33" fill="#fff" stroke="#f0f" stroke-width="0.6" stroke-linejoin="miter"/>
<polygon points="278.40,437.15 276.35,433.39 280.44,433.39" fill="#fff" stroke="#f0f" stroke-width="0.6" stroke-linejoin="miter"/>
<polygon points="284.52,431.83 282.48,428.07 286.56,428.07" fill="#fff" stroke="#f0f" stroke-width="0.6" stroke-linejoin="miter"/>
<polygon points="290.64,426.18 288.60,422.42 292.69,422.42" fill="#fff" stroke="#f0f" stroke-width="0.6" stroke-linejoin="miter"/>
<polygon points="296.77,420.22 294.73,416.45 298.81,416.45" fill="#fff" stroke="#f0f" stroke-width="0.6" stroke-linejoin="miter"/>
<polygon points="302.89,413.95 300.85,410.19 304.93,410.19" fill="#fff" stroke="#f0f" stroke-width="0.6" stroke-linejoin="miter"/>
<polygon points="309.02,407.40 306.97,403.64 311.06,403.64" fill="#fff" stroke="#f0f" stroke-width="0.6" stroke-linejoin="miter"/>
<polygon points="315.14,400.59 313.10,396.82 317.18,396.82" fill="#fff" stroke="#f0f" stroke-width="0.6" stroke-linejoin="miter"/>
<polygon points="321.26,393.50 319.22,389.73 323.31,389.73" fill="#fff" stroke="#f0f" stroke-width="0.6" stroke-linejoin="miter"/>
<polygon points="327.39,386.07 325.35,382.31 329.43,382.31" fill="#fff" stroke="#f0f" stroke-width="0.6" stroke-linejoin="miter"/>
<polyline points="100.80,364.83 106.92,376.76 113.05,387.97 119.17,398.67 125.30,408.45 131.42,417.13 137.54,425.04 143.67,432.20 149.79,438.64 155.92,444.32 162.04,449.30 168.16,453.60 174.29,457.25 180.41,460.25 186.54,462.63 192.66,464.40 198.78,465.58 204.91,466.19 211.03,466.24 217.16,465.75 223.28,464.74 229.40,463.22 235.53,461.22 241.65,458.74 247.78,455.81 253.90,452.45 260.02,448.66 266.15,444.50 272.27,439.95 278.40,435.00 284.52,429.69 290.64,424.04 296.77,418.07 302.89,411.80 309.02,405.25 315.14,398.44 321.26,391.35 327.39,383.93" fill="none" stroke="#808000" stroke-width="0.9"/>
<polygon points="98.65,364.83 102.41,362.79 102.41,366.87" fill="#fff" stroke="#808000" stroke-width="0.6" stroke-linejoin="miter"/>
<polygon points="104.77,376.76 108.54,374.71 108.54,378.80" fill="#fff" stroke="#808000" stroke-width="0.6" stroke-linejoin="miter"/>
<polygon points="110.90,387.97 114.66,385.93 114.66,390.01" fill="#fff" stroke="#808000" stroke-width="0.6" stroke-linejoin="miter"/>
<polygon points="117.02,398.67 120.78,396.63 120.78,400.71" fill="#fff" stroke="#808000" stroke-width="0.6" stroke-linejoin="miter"/>
<polygon points="123.15,408.45 126.91,406.41 126.91,410.49" fill="#fff" stroke="#808000" stroke-width="0.6" stroke-linejoin="miter"/>
<polygon points="129.27,417.13 133.03,415.09 133.03,419.17" fill="#fff" stroke="#808000" stroke-width="0.6" stroke-linejoin="miter"/>
<polygon points="135.39,425.04 139.16,423.00 139.16,427.08" fill="#fff" stroke="#808000" stroke-width="0.6" stroke-linejoin="miter"/>
<polygon points="141.52,432.20 145.28,430.16 145.28,434.25" fill="#fff" stroke="#808000" stroke-width="0.6" stroke-linejoin="miter"/>
<polygon points="147.64,438.64 151.40,436.60 151.40,440.68" fill="#fff" stroke="#808000" stroke-width="0.6" stroke-linejoin="miter"/>
<polygon points="153.77,444.32 157.53,442.27 157.53,446.36" fill="#fff" stroke="#808000" stroke-width="0.6" stroke-linejoin="miter"/>
<polygon points="159.89,449.30 163.65,447.25 163.65,451.34" fill="#fff" stroke="#808000" stroke-width="0.6" stroke-linejoin="miter"/>
<polygon points="166.01,453.60 169.78,451.56 169.78,455.64" fill="#fff" stroke="#808000" stroke-width="0.6" stroke-linejoin="miter"/>
<polygon points="172.14,457.25 175.90,455.20 175.90,459.29" fill="#fff" stroke="#808000" stroke-width="0.6" stroke-linejoin="miter"/>
<polygon points="178.26,460.25 182.02,458.21 182.02,462.29" fill="#fff" stroke="#808000" stroke-width="0.6" stroke-linejoin="miter"/>
<polygon points="184.39,462.63 188.15,460.59 188.15,464.67" fill="#fff" stroke="#808000" stroke-width="0.6" stroke-linejoin="miter"/>
<polygon points="190.51,464.40 194.27,462.36 194.27,466.44" fill="#fff" stroke="#808000" stroke-width="0.6" stroke-linejoin="miter"/>
<polygon points="196.63,465.58 200.40,463.54 200.40,467.62" fill="#fff" stroke="#808000" stroke-width="0.6" stroke-linejoin="miter"/>
<polygon points="202.76,466.19 206.52,464.14 206.52,468.23" fill="#fff" stroke="#808000" stroke-width="0.6" stroke-linejoin="miter"/>
<polygon points="208.88,466.24 212.64,464.19 212.64,468.28" fill="#fff" stroke="#808000" stroke-width="0.6" stroke-linejoin="miter"/>
<polygon points="215.01,465.75 218.77,463.71 218.77,467.79" fill="#fff" stroke="#808000" stroke-width="0.6" stroke-linejoin="miter"/>
<polygon points="221.13,464.74 224.89,462.69 224.89,466.78" fill="#fff" stroke="#808000" stroke-width="0.6" stroke-linejoin="miter"/>
<polygon points="227.25,463.22 231.02,461.18 231.02,465.26" fill="#fff" stroke="#808000" stroke-width="0.6" stroke-linejoin="miter"/>
<polygon points="233.38,461.22 237.14,459.17 237.14,463.26" fill="#fff" stroke="#808000" stroke-width="0.6" stroke-linejoin="miter"/>
<polygon points="239.50,458.74 243.26,456.70 243.26,460.78" fill="#fff" stroke="#808000" stroke-width="0.6" stroke-linejoin="miter"/>
<polygon points="245.63,455.81 249.39,453.77 249.39,457.86" fill="#fff" stroke="#808000" stroke-width="0.6" stroke-linejoin="miter"/>
<polygon points="251.75,452.45 255.51,450.40 255.51,454.49" fill="#fff" stroke="#808000" stroke-width="0.6" stroke-linejoin="miter"/>
<polygon points="257.87,448.66 261.64,446.62 261.64,450.71" fill="#fff" stroke="#808000" stroke-width="0.6" stroke-linejoin="miter"/>
<polygon points="264.00,444.50 267.76,442.46 267.76,446.54" fill="#fff" stroke="#808000" stroke-width="0.6" stroke-linejoin="miter"/>
<polygon points="270.12,439.95 273.88,437.91 273.88,441.99" fill="#fff" stroke="#808000" stroke-width="0.6" stroke-linejoin="miter"/>
<polygon points="276.25,435.00 280.01,432.96 280.01,437.05" fill="#fff" stroke="#808000" stroke-width="0.6" stroke-linejoin="miter"/>
<polygon points="282.37,429.69 286.13,427.65 286.13,431.73" fill="#fff" stroke="#808000" stroke-width="0.6" stroke-linejoin="miter"/>
<polygon points="288.49,424.04 292.26,422.00 292.26,426.08" fill="#fff" stroke="#808000" stroke-width="0.6" stroke-linejoin="miter"/>
<polygon points="294.62,418.07 298.38,416.03 298.38,420.11" fill="#fff" stroke="#808000" stroke-width="0.6" stroke-linejoin="miter"/>
<polygon points="300.74,411.80 304.50,409.76 304.50,413.85" fill="#fff" stroke="#808000" stroke-width="0.6" stroke-linejoin="miter"/>
<polygon points="306.87,405.25 310.63,403.21 310.63,407.30" fill="#fff" stroke="#808000" stroke-width="0.6" stroke-linejoin="miter"/>
<polygon points="312.99,398.44 316.75,396.40 316.75,400.48" fill="#fff" stroke="#808000" stroke-width="0.6" stroke-linejoin="miter"/>
<polygon points="319.11,391.35 322.88,389.30 322.88,393.39" fill="#fff" stroke="#808000" stroke-width="0.6" stroke-linejoin="miter"/>
<polygon points="325.24,383.93 329.00,381.88 329.00,385.97" fill="#fff" stroke="#808000" stroke-width="0.6" stroke-linejoin="miter"/>
<rect x="182.1" y="353.6" width="64.50" height="93.60" fill="#fff" stroke="#222" stroke-width="0.9"/>
<path d="M189.4 366.4H198.6M209.2 366.4H218.4" stroke="#000" stroke-width="0.55" fill="none"/>
<circle cx="203.80" cy="366.40" r="1.87" fill="#fff" stroke="#000" stroke-width="0.55"/>
<text x="221.9" y="371.10" font-size="14.4" font-family="Liberation Serif, serif">90</text>
<path d="M189.4 384.6H198.6M209.2 384.6H218.4" stroke="#f00" stroke-width="0.55" fill="none"/>
<rect x="202.04" y="382.84" width="3.52" height="3.52" fill="#f00" stroke="#f00" stroke-width="0.55"/>
<text x="221.9" y="389.30" font-size="14.4" font-family="Liberation Serif, serif">120</text>
<path d="M189.4 402.8H198.6M209.2 402.8H218.4" stroke="#00f" stroke-width="0.55" fill="none"/>
<polygon points="203.80,400.60 201.71,404.45 205.89,404.45" fill="#fff" stroke="#00f" stroke-width="0.55" stroke-linejoin="miter"/>
<text x="221.9" y="407.50" font-size="14.4" font-family="Liberation Serif, serif">180</text>
<path d="M189.4 421.0H198.6M209.2 421.0H218.4" stroke="#f0f" stroke-width="0.55" fill="none"/>
<polygon points="203.80,423.20 201.71,419.35 205.89,419.35" fill="#fff" stroke="#f0f" stroke-width="0.55" stroke-linejoin="miter"/>
<text x="221.9" y="425.70" font-size="14.4" font-family="Liberation Serif, serif">300</text>
<path d="M189.4 439.2H198.6M209.2 439.2H218.4" stroke="#808000" stroke-width="0.55" fill="none"/>
<polygon points="201.60,439.20 205.45,437.11 205.45,441.29" fill="#fff" stroke="#808000" stroke-width="0.55" stroke-linejoin="miter"/>
<text x="221.9" y="443.90" font-size="14.4" font-family="Liberation Serif, serif">450</text>
</svg>
</body></html>
